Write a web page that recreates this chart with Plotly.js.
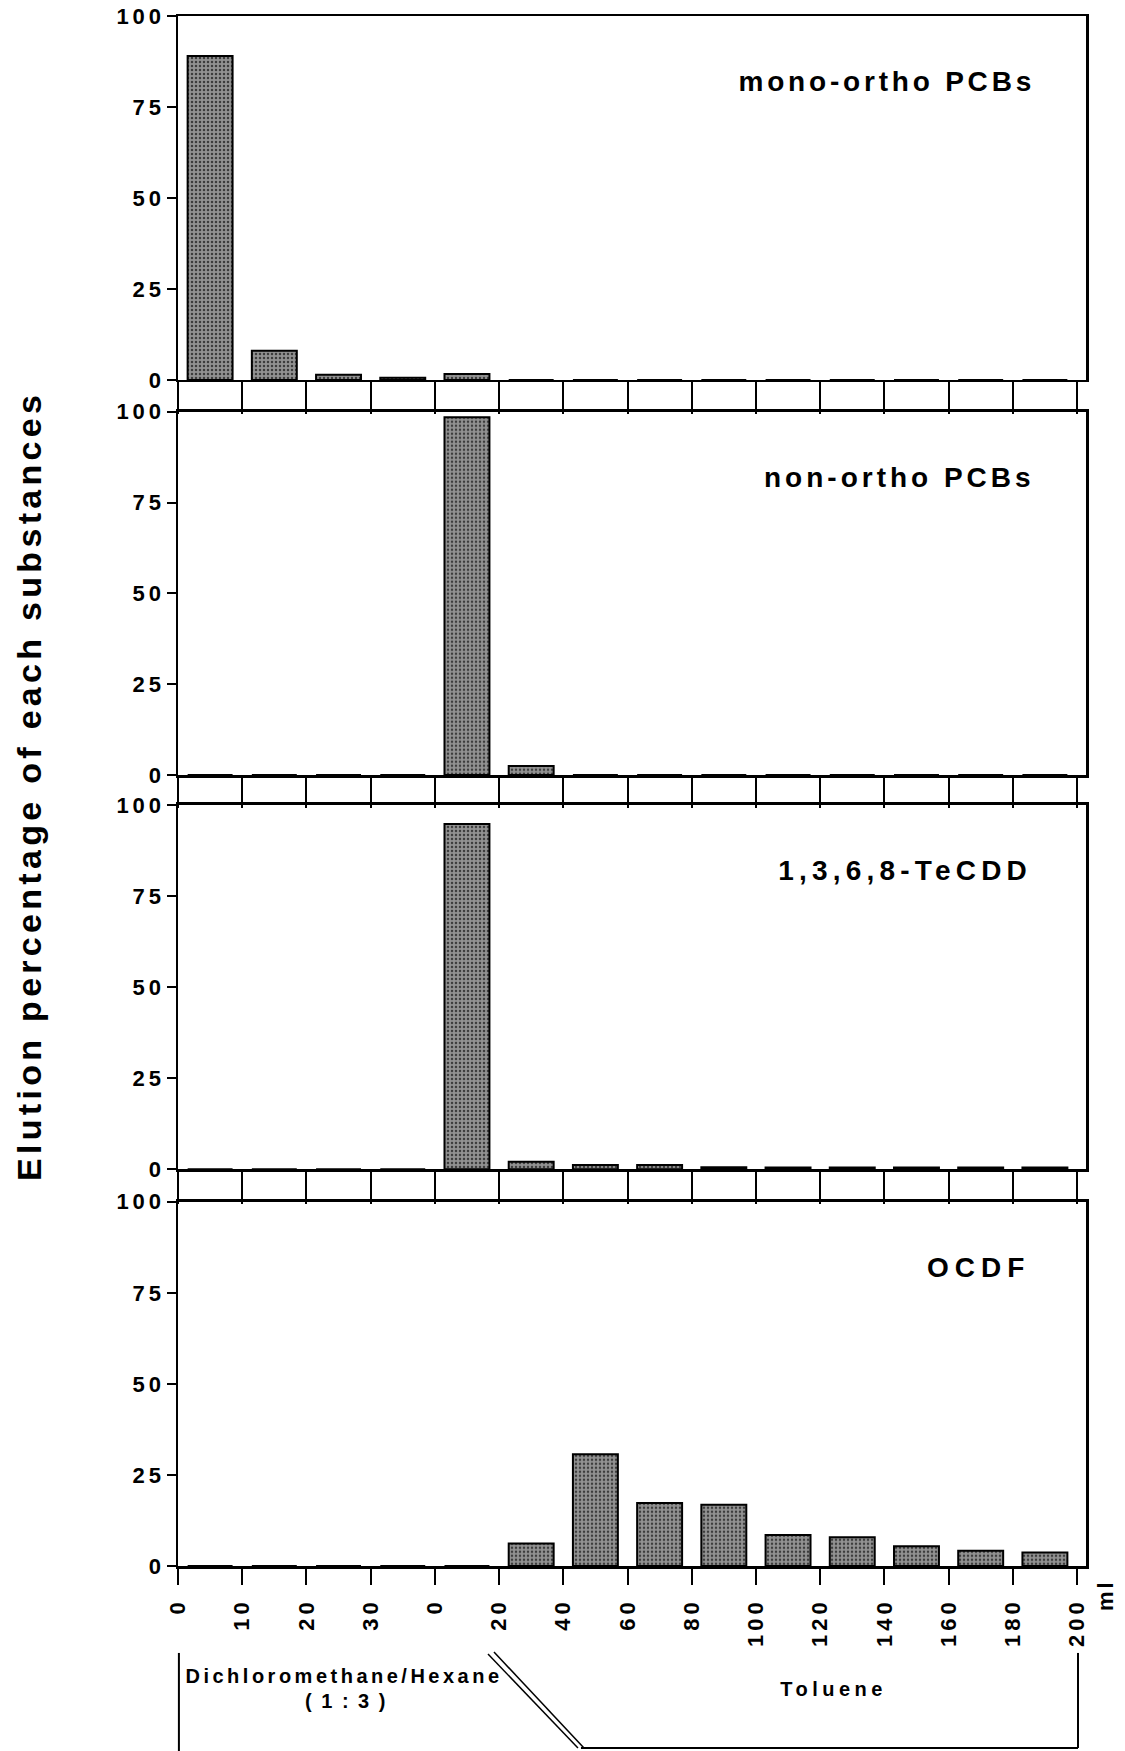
<!DOCTYPE html>
<html>
<head>
<meta charset="utf-8">
<script src="https://cdn.plot.ly/plotly-3.0.1.min.js"></script>
<style>
  html, body { margin: 0; padding: 0; background: #fff; }
  #chart { width: 1125px; height: 1751px; }
  .ytick text, .y2tick text, .y3tick text, .y4tick text { letter-spacing: 4px; }
  .xtick text, .x2tick text, .x3tick text, .x4tick text { letter-spacing: 4px; }
</style>
</head>
<body>
<div id="chart"></div>
<script>
// ---- data ----
const fractions = ['DH 0-10','DH 10-20','DH 20-30','DH 30-40','T 0-20','T 20-40','T 40-60','T 60-80',
                   'T 80-100','T 100-120','T 120-140','T 140-160','T 160-180','T 180-200'];
const monoOrtho = [89, 8, 1.4, 0.6, 1.6, 0, 0, 0, 0, 0, 0, 0, 0, 0];
const nonOrtho  = [0, 0, 0, 0, 98.5, 2.5, 0, 0, 0, 0, 0, 0, 0, 0];
const tecdd     = [0, 0, 0, 0, 94.8, 2.1, 1.2, 1.2, 0.6, 0.5, 0.5, 0.5, 0.5, 0.5];
const ocdf      = [0, 0, 0, 0, 0, 6.2, 30.7, 17.3, 16.8, 8.5, 7.9, 5.4, 4.2, 3.7];
const tickLabels = ['0','10','20','30','0','20','40','60','80','100','120','140','160','180','200'];
const yTicks = [0, 25, 50, 75, 100];
const panelNames = ['mono-ortho PCBs', 'non-ortho PCBs', '1,3,6,8-TeCDD', 'OCDF'];
const series = [monoOrtho, nonOrtho, tecdd, ocdf];

// ---- build ----
const FONT = 'Liberation Sans, Arial, Helvetica, sans-serif';
const xPos = fractions.map((_, i) => i + 0.5);
const tickPos = tickLabels.map((_, i) => i);

const traces = series.map((vals, k) => ({
  type: 'bar',
  x: xPos,
  y: vals,
  name: panelNames[k],
  xaxis: 'x' + (k === 0 ? '' : k + 1),
  yaxis: 'y' + (k === 0 ? '' : k + 1),
  width: 0.7,
  marker: {
    color: '#8e8e8e',
    pattern: { shape: '.', fgcolor: '#3c3c3c', bgcolor: '#929292', size: 4, solidity: 0.3 },
    line: { color: '#000', width: 2 }
  },
  showlegend: false,
  hoverinfo: 'x+y'
}));

const domains = [[0.7652, 1.0], [0.5103, 0.7447], [0.2559, 0.4910], [0.0, 0.2350]];
const stripLen = [32, 30, 32, 16];
const labelX = [0.7808, 0.795, 0.8007, 0.8821];

const layout = {
  width: 1125, height: 1751,
  margin: { l: 178, r: 39, t: 16, b: 185 },
  paper_bgcolor: '#fff', plot_bgcolor: '#fff',
  font: { family: FONT, color: '#000', size: 20, weight: 'bold' },
  annotations: [],
  shapes: []
};

for (let k = 0; k < 4; k++) {
  const sfx = k === 0 ? '' : String(k + 1);
  const isBottom = k === 3;
  layout['xaxis' + sfx] = {
    anchor: 'y' + sfx,
    domain: [0, 1],
    range: [0, 14.14],
    tickmode: 'array',
    tickvals: tickPos,
    ticktext: tickLabels,
    showticklabels: isBottom,
    tickangle: -90,
    ticks: 'outside',
    ticklen: stripLen[k],
    tickwidth: 2,
    tickcolor: '#000',
    ticklabelstandoff: 5,
    tickfont: { family: FONT, size: 22, weight: 'bold', color: '#000' },
    showline: true, mirror: true, linecolor: '#000', linewidth: 2.5,
    showgrid: false, zeroline: false, fixedrange: true
  };
  layout['yaxis' + sfx] = {
    anchor: 'x' + sfx,
    domain: domains[k],
    range: [0, 100],
    tickmode: 'array',
    tickvals: yTicks,
    ticktext: yTicks.map(String),
    ticks: 'outside',
    ticklen: 9,
    tickwidth: 2,
    tickcolor: '#000',
    ticklabelstandoff: -3,
    tickfont: { family: FONT, size: 22, weight: 'bold', color: '#000' },
    showline: true, mirror: true, linecolor: '#000', linewidth: 2.5,
    showgrid: false, zeroline: false, fixedrange: true
  };
  layout.annotations.push({
    text: panelNames[k], xref: 'paper', yref: 'y' + sfx,
    x: labelX[k], y: 82, xanchor: 'center', yanchor: 'middle', showarrow: false,
    font: { family: FONT, size: 28, weight: 'bold', color: '#000' }
  });
}

// y-axis title
layout.annotations.push({
  text: 'Elution percentage of each substances', xref: 'paper', yref: 'paper',
  x: -0.164, y: 0.503, textangle: -90, showarrow: false, xanchor: 'center', yanchor: 'middle',
  font: { family: FONT, size: 34, weight: 'bold', color: '#000' }
});
// unit
layout.annotations.push({
  text: 'ml', xref: 'paper', yref: 'paper',
  x: 1.022, y: -0.0187, textangle: -90, showarrow: false, xanchor: 'center', yanchor: 'middle',
  font: { family: FONT, size: 22, weight: 'bold', color: '#000' }
});
// solvent bracket texts
layout.annotations.push({
  text: 'Dichloromethane/Hexane', xref: 'paper', yref: 'paper',
  x: 0.1828, y: -0.071, showarrow: false, xanchor: 'center', yanchor: 'middle',
  font: { family: FONT, size: 20, weight: 'bold', color: '#000' }
});
layout.annotations.push({
  text: '( 1 : 3 )', xref: 'paper', yref: 'paper',
  x: 0.185, y: -0.0871, showarrow: false, xanchor: 'center', yanchor: 'middle',
  font: { family: FONT, size: 20, weight: 'bold', color: '#000' }
});
layout.annotations.push({
  text: 'Toluene', xref: 'paper', yref: 'paper',
  x: 0.7219, y: -0.0794, showarrow: false, xanchor: 'center', yanchor: 'middle',
  font: { family: FONT, size: 20, weight: 'bold', color: '#000' }
});
const letterSpacing = [3.8, 4, 5.2, 6, 4.3, 3, 3.5, 2, 4.5];

// bracket lines
const L = { color: '#000', width: 2 };
const D = { color: '#000', width: 1.5 };
layout.shapes.push(
  { type: 'line', xref: 'paper', yref: 'paper', x0: 0.001, x1: 0.001, y0: -0.0561, y1: -0.1194, line: L },
  { type: 'line', xref: 'paper', yref: 'paper', x0: 0.9912, x1: 0.9912, y0: -0.0561, y1: -0.1174, line: L },
  { type: 'line', xref: 'paper', yref: 'paper', x0: 0.4438, x1: 0.9912, y0: -0.1174, y1: -0.1174, line: L },
  { type: 'line', xref: 'paper', yref: 'paper', x0: 0.3414, x1: 0.4405, y0: -0.0568, y1: -0.1174, line: D },
  { type: 'line', xref: 'paper', yref: 'paper', x0: 0.3480, x1: 0.4471, y0: -0.0555, y1: -0.1174, line: D }
);

Plotly.newPlot('chart', traces, layout, { displayModeBar: false, staticPlot: true }).then(gd => {
  const anns = gd.querySelectorAll('.annotation-text');
  anns.forEach((t, i) => { if (letterSpacing[i] !== undefined) t.style.letterSpacing = letterSpacing[i] + 'px'; });
});
</script>
</body>
</html>
